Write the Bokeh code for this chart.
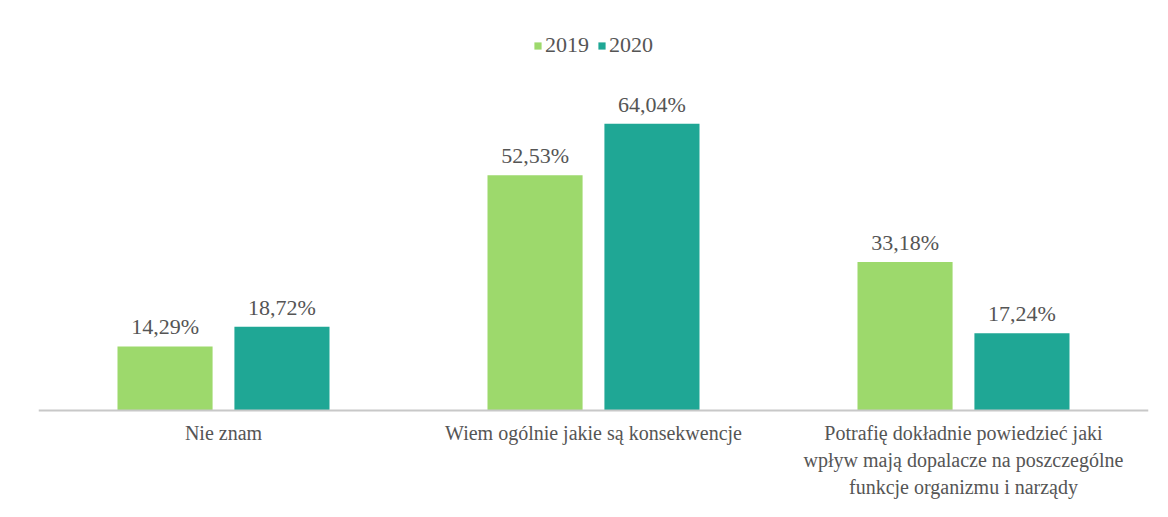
from bokeh.plotting import figure
from bokeh.models import ColumnDataSource, FactorRange, Span, Legend, LegendItem
from bokeh.transform import dodge
from bokeh.core.properties import value
from bokeh.embed import file_html
from bokeh.resources import INLINE

categories = [
    "Nie znam",
    "Wiem ogólnie jakie są konsekwencje",
    "Potrafię dokładnie powiedzieć jaki\nwpływ mają dopalacze na poszczególne\nfunkcje organizmu i narządy",
]
series = ["2019", "2020"]
values_2019 = [14.29, 52.53, 33.18]
values_2020 = [18.72, 64.04, 17.24]
colors = ["#9dd96c", "#1fa795"]

def fmt(v):
    return ("%.2f" % v).replace(".", ",") + "%"

src = ColumnDataSource(dict(
    cat=categories,
    v2019=values_2019,
    v2020=values_2020,
    l2019=[fmt(v) for v in values_2019],
    l2020=[fmt(v) for v in values_2020],
    zero=[0] * len(categories),
))

FONT = "Liberation Serif"
TXT = "#555555"
FS = "22px"

p = figure(
    x_range=FactorRange(*categories, range_padding=0),
    y_range=(-20.33, 85.3),
    width=1152, height=501,
    output_backend="svg", toolbar_location=None,
    min_border_left=38, min_border_right=4,
    min_border_top=28, min_border_bottom=0,
)
p.axis.visible = False
p.grid.visible = False
p.outline_line_color = None
p.x_range.range_padding = 0

off = 0.158
bw = 0.257
r1 = p.vbar(x=dodge("cat", -off, range=p.x_range), top="v2019", width=bw, source=src,
            fill_color=colors[0], line_color=None)
r2 = p.vbar(x=dodge("cat", off, range=p.x_range), top="v2020", width=bw, source=src,
            fill_color=colors[1], line_color=None)

p.add_layout(Span(location=0, dimension="width", line_color="#c8c8c8", line_width=2))

p.text(x=dodge("cat", -off, range=p.x_range), y="v2019", text="l2019", source=src,
       text_align="center", text_baseline="bottom", y_offset=-7,
       text_font=value(FONT), text_font_size=FS, text_color=TXT)
p.text(x=dodge("cat", off, range=p.x_range), y="v2020", text="l2020", source=src,
       text_align="center", text_baseline="bottom", y_offset=-7,
       text_font=value(FONT), text_font_size=FS, text_color=TXT)

p.text(x="cat", y="zero", text="cat", source=src,
       text_align="center", text_baseline="top", y_offset=12,
       text_line_height=1.22,
       text_font=value(FONT), text_font_size="20px", text_color=TXT)

legend = Legend(items=[LegendItem(label=series[0], renderers=[r1]),
                       LegendItem(label=series[1], renderers=[r2])],
                orientation="horizontal", location="top_center",
                border_line_color=None, background_fill_alpha=0,
                glyph_width=9, glyph_height=9, label_standoff=3, spacing=8,
                label_text_font=FONT, label_text_font_size=FS,
                label_text_color=TXT, padding=5, margin=4)
p.add_layout(legend)

open("out.html", "w").write(file_html(p, INLINE))
